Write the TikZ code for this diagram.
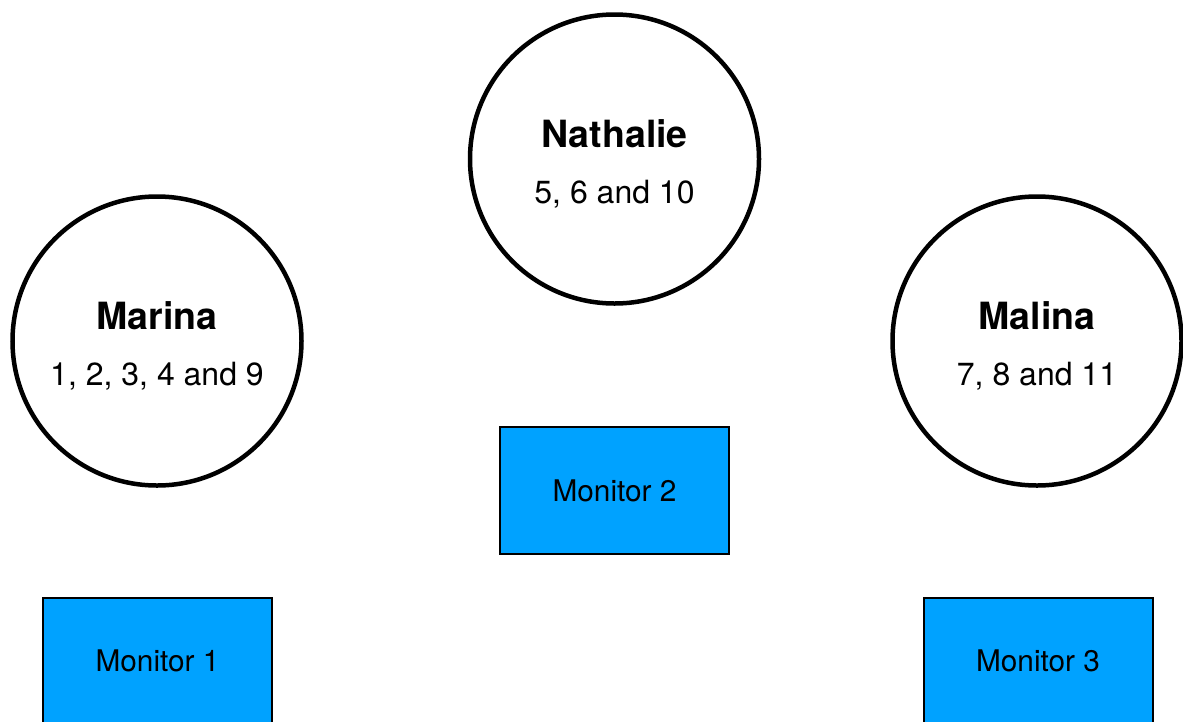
\documentclass[tikz,border=0pt]{standalone}
\usepackage{fontspec}
\setmainfont{TeX Gyre Heros}
\definecolor{monblue}{RGB}{0,162,255}
\begin{document}
\begin{tikzpicture}[x=1pt,y=-1pt,
  person/.style={circle,draw=black,line width=4.5pt,minimum size=289pt,inner sep=0pt,fill=white},
  monitor/.style={rectangle,draw=black,line width=2pt,fill=monblue,minimum width=229pt,minimum height=127pt,inner sep=0pt,font=\fontsize{29.8}{34}\selectfont},
  pname/.style={anchor=base,inner sep=0pt,font=\fontsize{37.5}{44}\selectfont\bfseries},
  pnums/.style={anchor=base,inner sep=0pt,font=\fontsize{32}{37}\selectfont}]
\useasboundingbox (0,0) rectangle (1183,721);
% people
\node[person] (nath) at (614.5,159) {};
\node[person] (marina) at (157,341) {};
\node[person] (malina) at (1037,341) {};
\node[pname] (nathname) at ([yshift=12pt]nath.center) {Nathalie};
\node[pnums] (nathnums) at ([yshift=-44pt]nath.center) {5, 6 and 10};
\node[pname] (marinaname) at ([yshift=12pt]marina.center) {Marina};
\node[pnums] (marinanums) at ([yshift=-44pt]marina.center) {1, 2, 3, 4 and 9};
\node[pname] (malinaname) at ([yshift=12pt]malina.center) {Malina};
\node[pnums] (malinanums) at ([yshift=-44pt]malina.center) {7, 8 and 11};
% monitors
\node[monitor] (mon2) at (614.5,490.5) {Monitor 2};
\node[monitor] (mon1) at (157.5,661) {Monitor 1};
\node[monitor] (mon3) at (1038,661) {Monitor 3};
\end{tikzpicture}
\end{document}
